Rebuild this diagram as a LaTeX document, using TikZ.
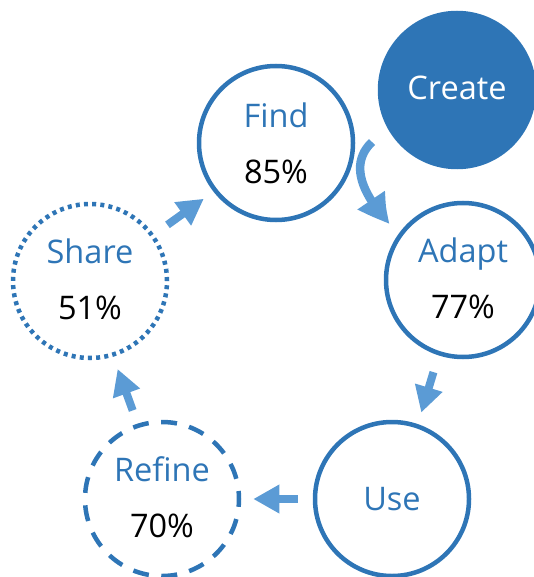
\documentclass[tikz,border=0pt]{standalone}
\usepackage{fontspec}
\setmainfont{Open Sans}
\usetikzlibrary{arrows.meta,bending}
\definecolor{ringblue}{HTML}{2E75B6}
\definecolor{arrowblue}{HTML}{5B9BD5}
\tikzset{
  x=1pt,y=-1pt,
  stage/.style={circle,draw=ringblue,line width=4.5pt,minimum size=154pt,inner sep=0pt,align=center,
    font=\fontsize{32.5}{56}\selectfont,text=ringblue},
  lifted/.style={text depth=4.5pt},
  flow/.style={draw=arrowblue,line width=8pt,-{Triangle[length=26pt,width=27pt]}},
  bentflow/.style={draw=arrowblue,line width=8.5pt,-{Triangle[bend,length=32pt,width=30pt]}},
}
\newcommand{\pct}[1]{\textcolor{black}{#1}}
\begin{document}
\begin{tikzpicture}
\useasboundingbox (0,0) rectangle (533,577);
\node[stage,lifted,fill=ringblue,text=white] (create) at (457,90) {Create};
\node[stage] (find) at (276,143) {Find\\\pct{85\%}};
\node[stage,lifted] (adapt) at (463,280) {Adapt\\\pct{77\%}};
\node[stage] (use) at (392,499) {Use};
\node[stage,lifted,dash pattern=on 16pt off 12.47pt,dash phase=8pt] (refine) at (162,499) {Refine\\\pct{70\%}};
\node[stage,lifted,dash pattern=on 4pt off 4.2pt] (share) at (90,281) {Share\\\pct{51\%}};
\coordinate (curvestart) at (372,142);
\coordinate (curveend) at (390,224);
\draw[bentflow] (curvestart) .. controls (350,163) and (360,192) .. (curveend);
\draw[flow,shorten <=17.5pt,shorten >=12pt] (adapt.252.5) -- (use.71.4);
\draw[flow,shorten <=15pt,shorten >=12pt] (use.180) -- (refine.0);
\draw[flow,shorten <=14pt,shorten >=13pt] (refine.108.8) -- (share.287.1);
\draw[flow,shorten <=16.4pt,shorten >=12pt] (share.36) -- (find.218);
\end{tikzpicture}
\end{document}
